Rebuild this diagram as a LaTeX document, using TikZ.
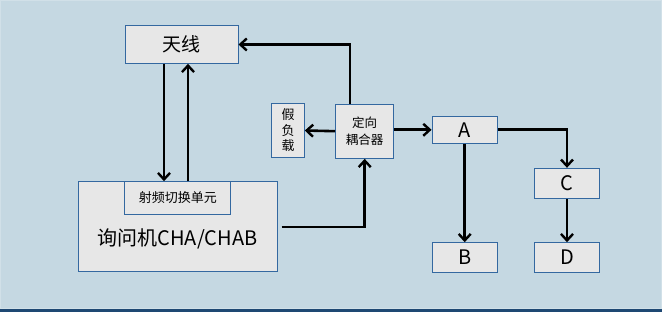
\documentclass[tikz,border=0pt]{standalone}
\usepackage{fontspec}
\setmainfont{Noto Sans CJK SC}
\usetikzlibrary{arrows.meta}
\definecolor{bgc}{RGB}{197,216,226}
\definecolor{boxfill}{RGB}{231,231,231}
\definecolor{boxline}{RGB}{52,104,160}
\definecolor{band}{RGB}{30,72,115}
\tikzset{
  blk/.style={draw=boxline, line width=1pt, fill=boxfill, inner sep=0pt, align=center},
  arr/.style={line width=2.6pt, -{Straight Barb[length=6.5pt,width=12pt,line width=2.4pt]}}
}
\begin{document}
\begin{tikzpicture}[x=1pt,y=-1pt]
\useasboundingbox (0,0) rectangle (662,312);
\fill[bgc] (0,0) rectangle (662,312);
\draw[draw=bgc!80!white, line width=1pt] (0.5,0.5) rectangle (661.5,309);
\fill[band] (0,309) rectangle (662,312);

\node[blk, minimum width=113pt, minimum height=37.6pt, font=\fontsize{19}{22}\selectfont] (tx) at (181.5,44.5) {天线};
\node[blk, minimum width=199pt, minimum height=90.3pt] (jx) at (177.5,226.8) {};
\node[font=\fontsize{20}{24}\selectfont, inner sep=0pt] (jxt) at (177.5,239) {询问机CHA/CHAB};
\node[blk, minimum width=105.7pt, minimum height=32.6pt, font=\fontsize{13}{15}\selectfont] (rf) at (177.8,198) {射频切换单元};
\node[blk, minimum width=32.6pt, minimum height=54.4pt, font=\fontsize{13}{15.5}\selectfont] (jfz) at (288,130.5) {假\\负\\载};
\node[blk, minimum width=58pt, minimum height=54.3pt, font=\fontsize{12.5}{16.5}\selectfont] (oh) at (364.7,131.2) {定向\\耦合器};
\node[blk, minimum width=65.3pt, minimum height=27pt, font=\fontsize{20}{24}\selectfont] (A) at (464.7,129.8) {A};
\node[blk, minimum width=65.3pt, minimum height=29.6pt, font=\fontsize{20}{24}\selectfont] (B) at (464.7,257.5) {B};
\node[blk, minimum width=65.4pt, minimum height=30.4pt, font=\fontsize{20}{24}\selectfont] (C) at (567,183.5) {C};
\node[blk, minimum width=65.4pt, minimum height=29.6pt, font=\fontsize{20}{24}\selectfont] (D) at (567,257.5) {D};

\coordinate (s) at ([xshift=4pt]jx.east |- 0,227);
\draw[arr] (s) -| (oh.south);
\draw[arr] ([xshift=-14.7pt]oh.north) |- (tx.east);
\draw[arr] (oh.west) -- (jfz.east);
\draw[arr] (oh.east |- A.west) -- (A.west);
\draw[arr] (A.south) -- (B.north);
\draw[arr] (A.east) -| (C.north);
\draw[arr] (C.south) -- (D.north);
\draw[arr] ([xshift=-17.5pt]tx.south) -- ([xshift=-17.5pt]tx.south |- rf.north);
\draw[arr] ([xshift=6.5pt]tx.south |- rf.north) -- ([xshift=6.5pt]tx.south);
\end{tikzpicture}
\end{document}
